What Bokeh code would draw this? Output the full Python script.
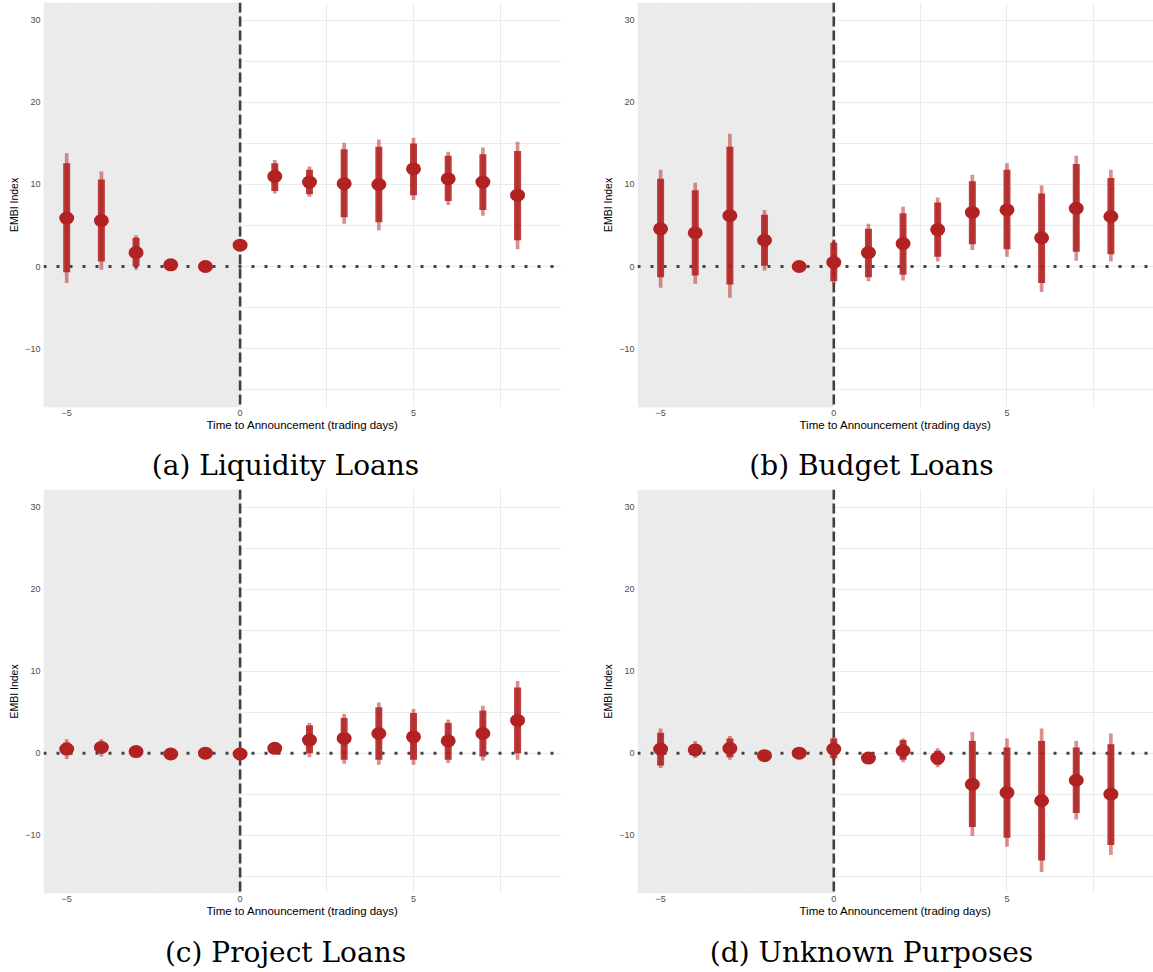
from bokeh.plotting import figure
from bokeh.models import Range1d, FixedTicker, BoxAnnotation, Span, ColumnDataSource, Div
from bokeh.layouts import column, row
from bokeh.embed import file_html
from bokeh.resources import INLINE

days = [-5, -4, -3, -2, -1, 0, 1, 2, 3, 4, 5, 6, 7, 8]

# (a) Liquidity Loans
liq_est = [5.9, 5.6, 1.7, 0.2, 0.0, 2.6, 11.0, 10.3, 10.1, 10.0, 11.9, 10.7, 10.3, 8.7]
liq_lo90 = [-0.7, 0.6, 0.0, -0.2, 0.0, 2.3, 9.2, 8.8, 6.0, 5.4, 8.7, 8.0, 6.9, 3.2]
liq_hi90 = [12.6, 10.6, 3.5, 0.6, 0.0, 2.9, 12.6, 11.8, 14.3, 14.6, 15.0, 13.5, 13.7, 14.1]
liq_lo95 = [-2.0, -0.4, -0.4, -0.3, 0.0, 2.2, 8.9, 8.5, 5.2, 4.4, 8.1, 7.5, 6.2, 2.1]
liq_hi95 = [13.8, 11.6, 3.8, 0.7, 0.0, 3.0, 13.0, 12.2, 15.1, 15.5, 15.7, 14.0, 14.5, 15.2]

# (b) Budget Loans
bud_est = [4.6, 4.1, 6.2, 3.2, 0.0, 0.5, 1.7, 2.8, 4.5, 6.6, 6.9, 3.5, 7.1, 6.1]
bud_lo90 = [-1.3, -1.1, -2.2, 0.1, 0.0, -1.8, -1.3, -1.0, 1.2, 2.7, 2.1, -2.0, 1.8, 1.5]
bud_hi90 = [10.7, 9.3, 14.6, 6.3, 0.0, 2.9, 4.6, 6.5, 7.8, 10.4, 11.8, 8.9, 12.5, 10.8]
bud_lo95 = [-2.6, -2.1, -3.8, -0.5, 0.0, -2.2, -1.8, -1.7, 0.6, 2.0, 1.2, -3.1, 0.7, 0.6]
bud_hi95 = [11.8, 10.2, 16.2, 6.9, 0.0, 3.3, 5.2, 7.3, 8.4, 11.2, 12.6, 9.9, 13.5, 11.8]

# (c) Project Loans
pro_est = [0.5, 0.7, 0.2, -0.1, 0.0, -0.1, 0.6, 1.6, 1.8, 2.4, 2.0, 1.5, 2.4, 4.0]
pro_lo90 = [-0.2, 0.1, -0.1, -0.3, 0.0, -0.3, 0.3, 0.0, -0.8, -0.8, -0.8, -0.8, -0.4, 0.0]
pro_hi90 = [1.3, 1.3, 0.5, 0.1, 0.0, 0.1, 0.9, 3.4, 4.3, 5.6, 4.9, 3.7, 5.2, 8.0]
pro_lo95 = [-0.7, -0.4, -0.2, -0.4, 0.0, -0.4, 0.2, -0.5, -1.3, -1.4, -1.4, -1.2, -0.9, -0.8]
pro_hi95 = [1.7, 1.7, 0.6, 0.2, 0.0, 0.2, 1.0, 3.7, 4.8, 6.2, 5.4, 4.1, 5.8, 8.8]

# (d) Unknown Purposes
unk_est = [0.5, 0.4, 0.6, -0.3, 0.0, 0.5, -0.6, 0.3, -0.6, -3.8, -4.8, -5.8, -3.3, -5.0]
unk_lo90 = [-1.5, -0.3, -0.5, -0.5, 0.0, -0.6, -0.8, -0.8, -1.4, -9.0, -10.3, -13.1, -7.3, -11.2]
unk_hi90 = [2.5, 1.1, 1.8, -0.1, 0.0, 1.8, -0.4, 1.6, 0.3, 1.5, 0.7, 1.5, 0.7, 1.1]
unk_lo95 = [-1.8, -0.6, -0.8, -0.7, 0.0, -0.9, -0.9, -1.1, -1.7, -10.1, -11.4, -14.5, -8.1, -12.4]
unk_hi95 = [3.0, 1.5, 2.1, 0.1, 0.0, 2.0, -0.3, 1.8, 0.6, 2.6, 1.8, 3.0, 1.5, 2.4]

captions = ["(a) Liquidity Loans", "(b) Budget Loans", "(c) Project Loans", "(d) Unknown Purposes"]
x_ticks = [-5, 0, 5]
y_ticks = [-10, 0, 10, 20, 30]
x_grid = [-5, -2.5, 0, 2.5, 5, 7.5]
y_grid = [-15, -10, -5, 0, 5, 10, 15, 20, 25, 30]
x_title = "Time to Announcement (trading days)"
y_title = "EMBI Index"

RED = "#B22222"
AXIS_FONT = "Liberation Sans"


def panel(est, lo90, hi90, lo95, hi95, width, height, xr, yr, borders):
    left, right, top, bottom = borders
    p = figure(width=width, height=height, x_range=Range1d(*xr), y_range=Range1d(*yr),
               output_backend="svg", toolbar_location=None,
               min_border_left=left, min_border_right=right,
               min_border_top=top, min_border_bottom=bottom)
    p.outline_line_color = None
    p.background_fill_color = "white"
    p.border_fill_color = "white"

    p.xgrid.ticker = FixedTicker(ticks=x_grid)
    p.ygrid.ticker = FixedTicker(ticks=y_grid)
    for g in (p.xgrid[0], p.ygrid[0]):
        g.grid_line_color = "#EBEBEB"
        g.grid_line_width = 1

    p.xaxis.ticker = FixedTicker(ticks=x_ticks)
    p.yaxis.ticker = FixedTicker(ticks=y_ticks)
    p.xaxis.major_label_overrides = {-5: "\u22125"}
    p.yaxis.major_label_overrides = {-10: "\u221210"}
    for ax in (p.xaxis[0], p.yaxis[0]):
        ax.axis_line_color = None
        ax.major_tick_line_color = None
        ax.minor_tick_line_color = None
        ax.major_tick_out = 0
        ax.major_tick_in = 0
        ax.minor_tick_out = 0
        ax.minor_tick_in = 0
        ax.major_label_text_font = AXIS_FONT
        ax.major_label_text_font_size = "9px"
        ax.major_label_text_color = "#4D4D4D"
        ax.axis_label_text_font = AXIS_FONT
        ax.axis_label_text_font_style = "normal"
        ax.axis_label_text_color = "#000000"
    p.xaxis.axis_label = x_title
    p.yaxis.axis_label = y_title
    p.xaxis.axis_label_text_font_size = "11.5px"
    p.yaxis.axis_label_text_font_size = "10.5px"
    p.xaxis.major_label_standoff = 2
    p.xaxis.axis_label_standoff = 0
    p.yaxis.major_label_standoff = 3
    p.yaxis.axis_label_standoff = 2

    box = BoxAnnotation(right=0, fill_color="#EBEBEB", fill_alpha=1.0, line_color=None, level="underlay")
    p.add_layout(box)
    p.add_layout(Span(location=0, dimension="width", line_color="#444444", line_width=3,
                      line_dash="3 10", level="underlay"))
    p.add_layout(Span(location=0, dimension="height", line_color="#404040", line_width=2.6,
                      line_dash="10 4", level="underlay"))

    src = ColumnDataSource(dict(x=days, y=est, lo90=lo90, hi90=hi90, lo95=lo95, hi95=hi95))
    p.segment(x0="x", y0="lo95", x1="x", y1="hi95", source=src, line_color=RED,
              line_alpha=0.5, line_width=3.7)
    p.segment(x0="x", y0="lo90", x1="x", y1="hi90", source=src, line_color=RED,
              line_alpha=0.88, line_width=7)
    p.ellipse(x="x", y="y", width=15, height=13, width_units="screen", height_units="screen",
              source=src, fill_color=RED, line_color=None)
    return p


def caption(text, width, height, pad_left, inner_w, line_h):
    html = ('<div style="width:%dpx;padding-left:%dpx;text-align:center;'
            'font-family:\'DejaVu Serif\';font-size:28px;line-height:%dpx;'
            'white-space:nowrap;color:#000;">%s</div>') % (inner_w, pad_left, line_h, text)
    return Div(text=html, width=width, height=height, margin=(0, 0, 0, 0))


xr_left = (-5.669, 9.267)
xr_right = (-5.667, 9.23)
yr_top = (-17.195, 32.195)
yr_bot = (-17.11, 32.16)

pa = panel(liq_est, liq_lo90, liq_hi90, liq_lo95, liq_hi95, 590, 440, xr_left, yr_top, (43, 29, 2, 33))
pb = panel(bud_est, bud_lo90, bud_hi90, bud_lo95, bud_hi95, 563, 440, xr_right, yr_top, (47, 0, 2, 33))
pc = panel(pro_est, pro_lo90, pro_hi90, pro_lo95, pro_hi95, 590, 437, xr_left, yr_bot, (43, 29, 1, 32))
pd = panel(unk_est, unk_lo90, unk_hi90, unk_lo95, unk_hi95, 563, 437, xr_right, yr_bot, (47, 0, 1, 32))

ca = caption(captions[0], 590, 48, 0, 571, 51)
cb = caption(captions[1], 563, 48, 29, 534, 51)
cc = caption(captions[2], 590, 40, 0, 571, 56)
cd = caption(captions[3], 563, 40, 29, 534, 56)

layout = column(row(pa, pb), row(ca, cb), row(pc, pd), row(cc, cd))
open("out.html", "w").write(file_html(layout, INLINE))
